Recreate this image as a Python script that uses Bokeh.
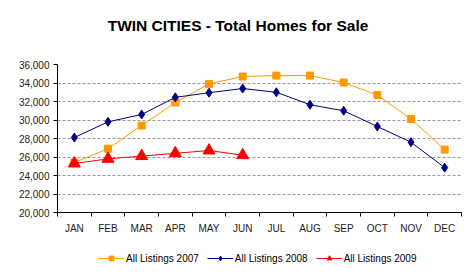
from bokeh.plotting import figure
from bokeh.layouts import column
from bokeh.models import (FixedTicker, NumeralTickFormatter, Legend, LegendItem,
                          Range1d, Label)
from bokeh.embed import file_html
from bokeh.resources import INLINE

# Monthly total homes for sale, Twin Cities
months = ["JAN", "FEB", "MAR", "APR", "MAY", "JUN",
          "JUL", "AUG", "SEP", "OCT", "NOV", "DEC"]
listings_2007 = [25400, 26900, 29400, 31900, 33900, 34700,
                 34800, 34800, 34050, 32700, 30100, 26800]
listings_2008 = [28100, 29800, 30600, 32450, 32950, 33400,
                 33000, 31650, 31000, 29300, 27600, 24850]
listings_2009 = [25300, 25800, 26100, 26400, 26700, 26200]
series = [listings_2007, listings_2008, listings_2009]
series_labels = ["All Listings 2007", "All Listings 2008", "All Listings 2009"]
y_ticks = list(range(20000, 36001, 2000))
title_text = "TWIN CITIES - Total Homes for Sale"

FONT = "Liberation Sans"
STYLES = [
    dict(color="#FF9900", marker="square", size=7),
    dict(color="#000080", marker="diamond", size=9),
    dict(color="#FF0000", marker="triangle", size=12),
]

# month i sits in the middle of slot [i, i+1]
x_pos = [i + 0.5 for i in range(len(months))]


def blank_strip(height):
    f = figure(width=475, height=height, output_backend="svg", toolbar_location=None,
               x_range=Range1d(0, 1), y_range=Range1d(0, 1),
               min_border=0, outline_line_color=None)
    f.axis.visible = False
    f.grid.visible = False
    return f


# title strip
head = blank_strip(54)
head.add_layout(Label(x=180.5, y=29, x_units="screen", y_units="screen",
                      text=title_text, text_align="center", text_baseline="middle",
                      text_font=FONT, text_font_size="15.5px",
                      text_font_style="bold", text_color="#000000"))

# main chart
p = figure(width=475, height=186, output_backend="svg", toolbar_location=None,
           x_range=Range1d(0, len(months)), y_range=Range1d(y_ticks[0], y_ticks[-1]),
           min_border_left=57, min_border_right=14, min_border_top=10,
           min_border_bottom=28, outline_line_color=None)

# x axis: labels centred in each slot, tick marks on slot boundaries
p.xaxis.ticker = FixedTicker(ticks=x_pos, minor_ticks=list(range(len(months) + 1)))
p.xaxis.major_label_overrides = {xp: m for xp, m in zip(x_pos, months)}
p.xaxis.major_tick_out = 0
p.xaxis.major_tick_in = 0
p.xaxis.minor_tick_out = 4
p.xaxis.minor_tick_in = 0
p.xaxis.minor_tick_line_color = "#000000"
p.xaxis.axis_line_color = "#000000"
p.xaxis.major_label_standoff = 6
p.xaxis.major_label_text_font = FONT
p.xaxis.major_label_text_font_size = "10px"
p.xaxis.major_label_text_color = "#222222"

p.yaxis.ticker = FixedTicker(ticks=y_ticks)
p.yaxis.formatter = NumeralTickFormatter(format="0,0")
p.yaxis.major_tick_out = 4
p.yaxis.major_tick_in = 0
p.yaxis.minor_tick_line_color = None
p.yaxis.axis_line_color = "#000000"
p.yaxis.major_tick_line_color = "#000000"
p.yaxis.major_label_standoff = 4
p.yaxis.major_label_text_font = FONT
p.yaxis.major_label_text_font_size = "10px"
p.yaxis.major_label_text_color = "#222222"

p.xgrid.grid_line_color = None
p.ygrid.grid_line_color = "#9a9a9a"
p.ygrid.grid_line_dash = "3 2"

for values, st in zip(series, STYLES):
    xs = x_pos[:len(values)]
    p.line(xs, values, line_color=st["color"], line_width=1)
    p.scatter(xs, values, marker=st["marker"], size=st["size"],
              fill_color=st["color"], line_color=st["color"])

# legend strip under the chart; its renderers reuse the series but fall
# outside this strip's 0..1 y range, so only the legend swatches show
leg = blank_strip(35)
items = []
for label, values, st in zip(series_labels, series, STYLES):
    xs = x_pos[:len(values)]
    ln = leg.line(xs, values, line_color=st["color"], line_width=1)
    mk = leg.scatter(xs, values, marker=st["marker"], size=st["size"],
                     fill_color=st["color"], line_color=st["color"])
    items.append(LegendItem(label=label, renderers=[ln, mk]))

legend = Legend(items=items, orientation="horizontal", location=(41, 11),
                label_text_font=FONT, label_text_font_size="10px",
                label_text_color="#000000", glyph_width=26, glyph_height=12,
                label_standoff=2, spacing=8, padding=0, margin=0,
                border_line_color=None, background_fill_alpha=0)
leg.add_layout(legend)

layout = column(head, p, leg, spacing=0)
open("out.html", "w").write(file_html(layout, INLINE))
